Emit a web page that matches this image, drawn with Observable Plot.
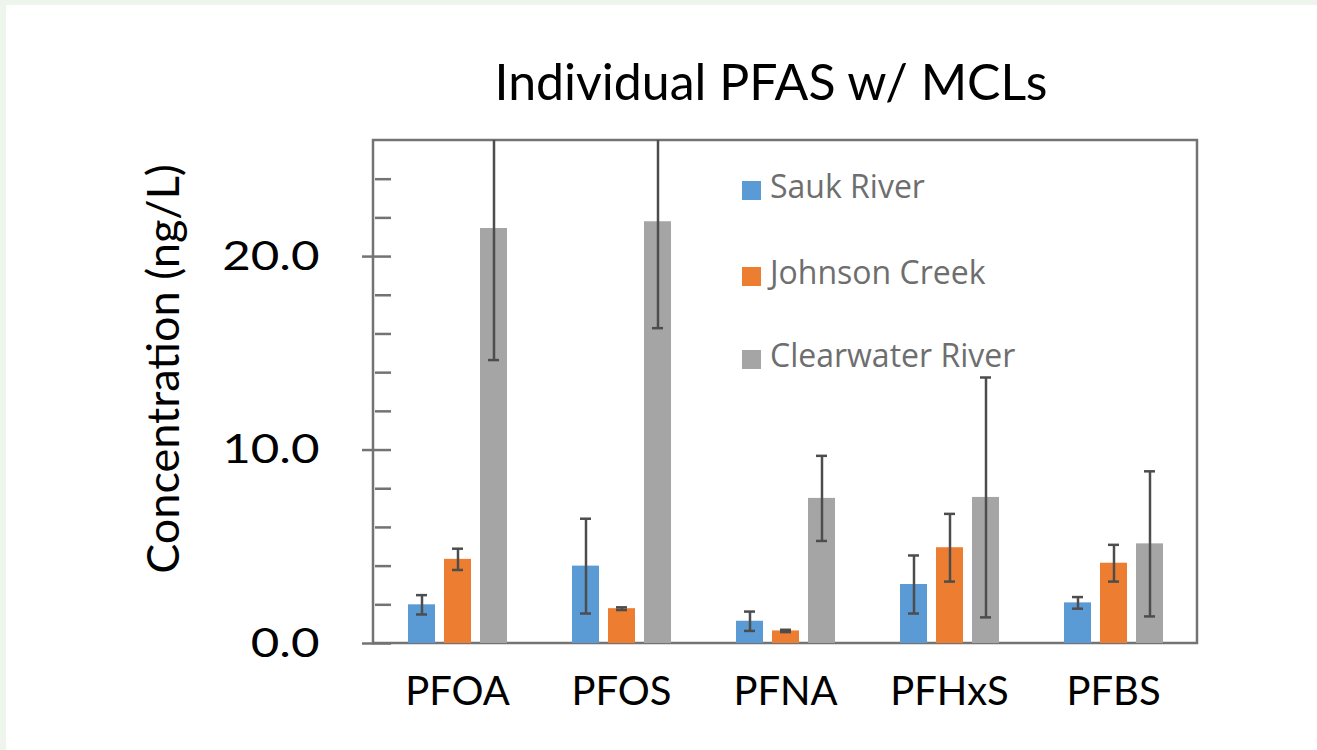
<!DOCTYPE html>
<html>
<head>
<meta charset="utf-8">
<script src="https://cdn.jsdelivr.net/npm/d3@7"></script>
<script src="https://cdn.jsdelivr.net/npm/@observablehq/plot@0.6"></script>
<style>
  html, body { margin: 0; padding: 0; background: #eef5ed; width: 1317px; height: 750px; overflow: hidden; }
  #panel { position: absolute; left: 6px; top: 5px; width: 1311px; height: 745px; background: #ffffff; }
  #chart { position: absolute; left: 0; top: 0; }
  #title { position: absolute; left: 421px; width: 700px; top: 56px; text-align: center;
           font-family: Lato, sans-serif; font-size: 50px; line-height: 1; color: #000; white-space: nowrap; }
  #ylabel { position: absolute; left: 162px; top: 369px; transform: translate(-50%, -50%) rotate(-90deg);
            font-family: Lato, sans-serif; font-size: 45px; line-height: 1; color: #000; white-space: nowrap; }
  .lg-sw { position: absolute; width: 19px; height: 19px; }
  .lg-tx { position: absolute; font-family: "Open Sans", sans-serif; font-size: 32px; line-height: 1; color: #6e6e6e; white-space: nowrap; }
</style>
</head>
<body>
<div id="panel"></div>
<div id="chart"></div>
<div id="title"></div>
<div id="ylabel"></div>
<div id="legend"></div>
<script>
// ---- data ----
const categories = ["PFOA", "PFOS", "PFNA", "PFHxS", "PFBS"];
const series = ["Sauk River", "Johnson Creek", "Clearwater River"];
const colors = ["#5b9bd5", "#ed7d31", "#a5a5a5"];
const saukValues       = [2.0, 4.0, 1.15, 3.05, 2.1];
const saukErrors       = [0.5, 2.45, 0.5, 1.5, 0.3];
const johnsonValues    = [4.35, 1.8, 0.65, 4.95, 4.15];
const johnsonErrors    = [0.55, 0.07, 0.06, 1.75, 0.95];
const clearwaterValues = [21.45, 21.8, 7.5, 7.55, 5.15];
const clearwaterErrors = [6.8, 5.5, 2.2, 6.2, 3.75];
const yMajorTicks = [0, 10, 20];
const yMinorTicks = [0, 2, 4, 6, 8, 10, 12, 14, 16, 18, 20, 22, 24];
const yMax = 26;
const titleText = "Individual PFAS w/ MCLs";
const yLabel = "Concentration (ng/L)";

document.getElementById("title").textContent = titleText;
document.getElementById("ylabel").textContent = yLabel;

const valuesBySeries = [saukValues, johnsonValues, clearwaterValues];
const errorsBySeries = [saukErrors, johnsonErrors, clearwaterErrors];
const rows = categories.flatMap((c, i) => series.map((s, j) => ({
  cat: c, series: s, value: valuesBySeries[j][i], err: errorsBySeries[j][i]
})));

const frameColor = "#737373";
const errColor = "#4d4d4d";

const chart = Plot.plot({
  width: 1317,
  height: 750,
  marginLeft: 373,
  marginRight: 120,
  marginTop: 140,
  marginBottom: 107,
  style: { fontFamily: "Lato, sans-serif", background: "transparent", color: "#000" },
  fx: { domain: categories, padding: 0 },
  x: { domain: series, paddingInner: 0.257, paddingOuter: 0.855, axis: null },
  y: { domain: [0, yMax] },
  color: { domain: series, range: colors },
  marks: [
    Plot.barY(rows, { fx: "cat", x: "series", y: "value", fill: "series" }),
    Plot.ruleX(rows, { fx: "cat", x: "series", y1: d => d.value - d.err, y2: d => d.value + d.err,
                       stroke: errColor, strokeWidth: 2.5, clip: true }),
    Plot.tickY(rows, { fx: "cat", x: "series", y: d => d.value + d.err, stroke: errColor, strokeWidth: 2.5,
                       insetLeft: 8, insetRight: 8, clip: true }),
    Plot.tickY(rows, { fx: "cat", x: "series", y: d => d.value - d.err, stroke: errColor, strokeWidth: 2.5,
                       insetLeft: 8, insetRight: 8, clip: true }),
    // inward minor ticks
    Plot.axisY(yMinorTicks, { anchor: "left", tickSize: 16, dx: 16, tickFormat: () => "", label: null,
                              stroke: frameColor, strokeWidth: 2.5 }),
    // outward major ticks + labels
    Plot.axisY(yMajorTicks, { anchor: "left", tickSize: 13, tickPadding: 43, tickFormat: d3.format(".1f"),
                              label: null, fontSize: 41, stroke: frameColor, strokeWidth: 2.5, fill: "#000" }),
    Plot.axisFx({ anchor: "bottom", tickSize: 0, tickPadding: 33, fontSize: 40, label: null, fill: "#000" })
  ]
});

// frame drawn from the library's scales, placed beneath the marks
const fxs = chart.scale("fx");
const ys = chart.scale("y");
const x0 = Math.min(...fxs.range), x1 = Math.max(...fxs.range);
const y0 = Math.min(...ys.range), y1 = Math.max(...ys.range);
const ns = "http://www.w3.org/2000/svg";
const rect = document.createElementNS(ns, "rect");
rect.setAttribute("x", x0); rect.setAttribute("y", y0);
rect.setAttribute("width", x1 - x0); rect.setAttribute("height", y1 - y0);
rect.setAttribute("fill", "none"); rect.setAttribute("stroke", frameColor); rect.setAttribute("stroke-width", 2.5);
const styleEl = chart.querySelector("style");
chart.insertBefore(rect, styleEl ? styleEl.nextSibling : chart.firstChild);

// widen y tick labels horizontally (reference labels are stretched)
chart.querySelectorAll('g[aria-label="y-axis tick label"] text').forEach(t => {
  const tr = t.getAttribute("transform");
  if (tr) t.setAttribute("transform", tr + " scale(1.2,1)");
  else {
    const x = t.getAttribute("x") || 0, y = t.getAttribute("y") || 0;
    t.removeAttribute("x"); t.removeAttribute("y");
    t.setAttribute("transform", `translate(${x},${y}) scale(1.2,1)`);
  }
});

document.getElementById("chart").appendChild(chart);

// legend (inside plot area)
const legend = document.getElementById("legend");
const legendTop = [181, 267, 350];
series.forEach((s, i) => {
  const sw = document.createElement("div");
  sw.className = "lg-sw";
  sw.style.left = "742px";
  sw.style.top = legendTop[i] + "px";
  sw.style.background = colors[i];
  legend.appendChild(sw);
  const tx = document.createElement("div");
  tx.className = "lg-tx";
  tx.style.left = "770px";
  tx.style.top = (legendTop[i] + 19 - 30) + "px";
  tx.textContent = s;
  legend.appendChild(tx);
});
</script>
</body>
</html>
